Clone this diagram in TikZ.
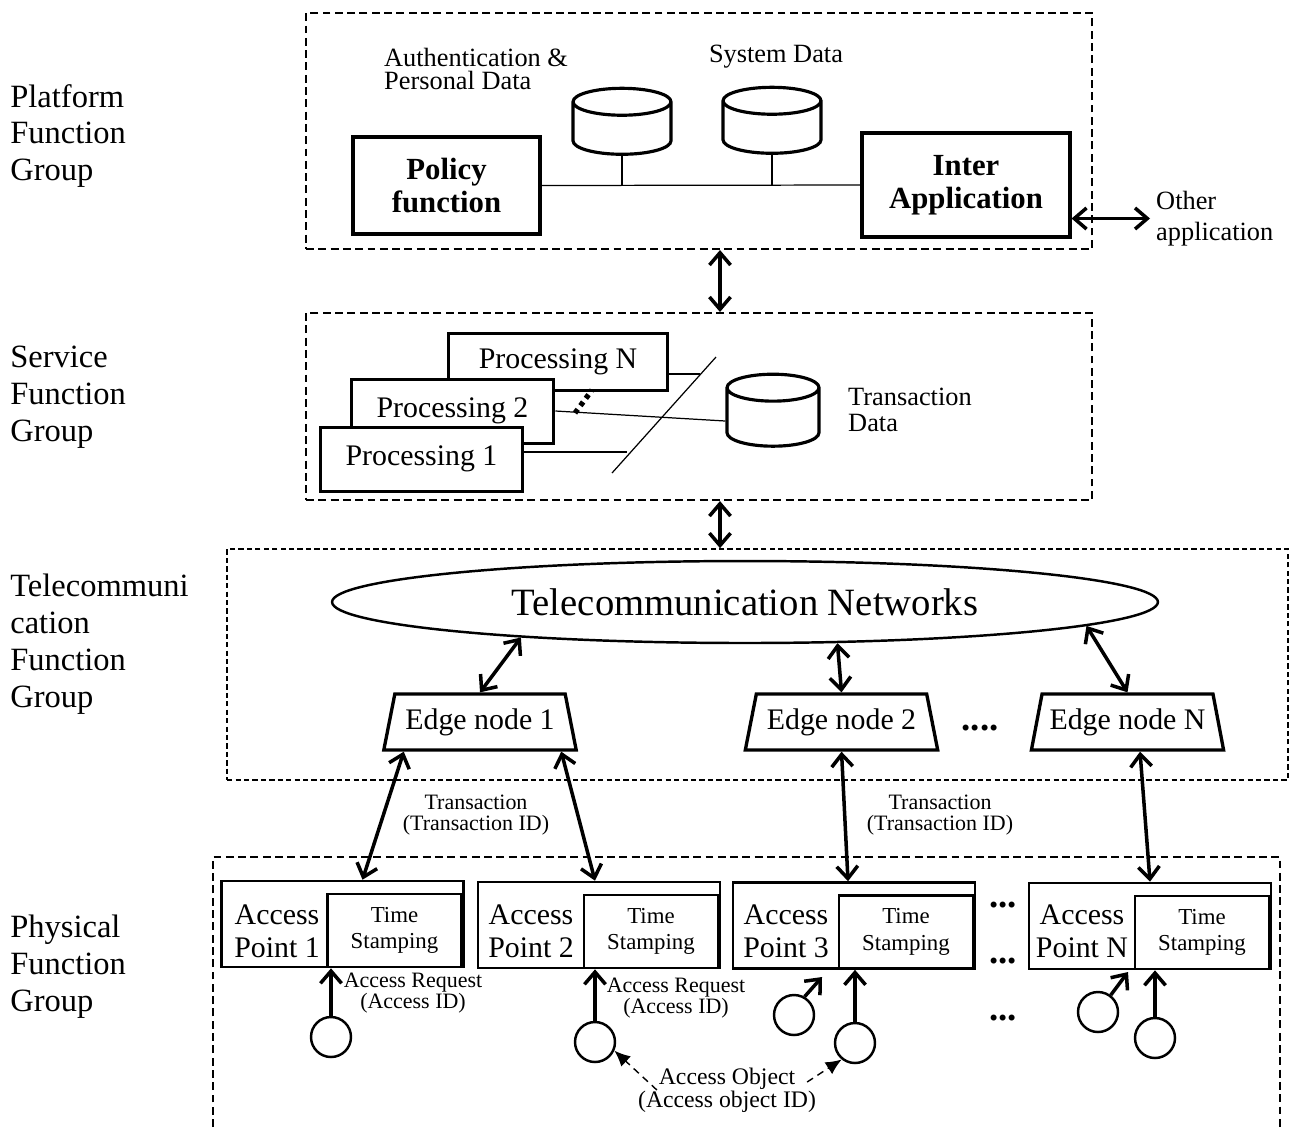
\documentclass[tikz,border=0pt]{standalone}
\usepackage{fontspec}
\setmainfont{Liberation Serif}
\usetikzlibrary{shapes.geometric,arrows.meta}

\begin{document}
\begin{tikzpicture}[x=0.02cm, y=-0.02cm,
    grouplbl/.style={anchor=west, align=left, inner sep=0pt, font=\fontsize{18.5}{21}\selectfont},
    groupbox/.style={draw, line width=1.2pt, dash pattern=on 4.5pt off 2.5pt},
    telebox/.style={draw, line width=1pt, dash pattern=on 3pt off 1.8pt},
    funcbox/.style={draw, line width=1.8pt, align=center, font=\fontsize{17.5}{19}\selectfont\bfseries},
    db/.style={cylinder, shape border rotate=90, draw, line width=1.8pt, aspect=2.3},
    datalbl/.style={font=\fontsize{15}{13.6}\selectfont},
    procbox/.style={draw, fill=white, line width=1.7pt, font=\fontsize{17}{19}\selectfont},
    edgebox/.style={trapezium, trapezium left angle=75, trapezium right angle=75, trapezium stretches=true,
        draw, line width=1.9pt, minimum width=3.85cm, minimum height=1.12cm, font=\fontsize{17}{19}\selectfont},
    apbox/.style={draw, line width=1.5pt, minimum width=4.84cm, minimum height=1.72cm},
    tsbox/.style={draw, line width=1.5pt, minimum width=2.68cm, minimum height=1.46cm, align=center,
        font=\fontsize{13}{15}\selectfont},
    aptext/.style={align=center, font=\fontsize{17}{19}\selectfont},
    smalllbl/.style={align=center, font=\fontsize{12.5}{12}\selectfont},
    obj/.style={circle, draw, line width=1.4pt, minimum size=0.8cm, inner sep=0pt},
    ellip/.style={font=\fontsize{21}{21}\selectfont\bfseries},
    bus/.style={line width=0.7pt},
    dbl/.style={{Straight Barb[length=7pt,width=12pt]}-{Straight Barb[length=7pt,width=12pt]}, line width=2pt},
    arr/.style={-{Straight Barb[length=7pt,width=12pt]}, line width=2pt},
    objarr/.style={-{Latex[length=9pt,width=8pt]}, line width=0.8pt, dash pattern=on 4pt off 3pt}]

    \useasboundingbox (0,0) rectangle (1290,1127);

    % Platform Function Group
    \node[grouplbl] (platlbl) at (10,136) {Platform\\Function\\Group};
    \node[groupbox, minimum width=15.72cm, minimum height=4.72cm] (plat) at (699,131) {};
    \node[funcbox, minimum width=3.74cm, minimum height=1.94cm] (policy) at (446.5,185.5) {Policy\\function};
    \node[funcbox, minimum width=4.16cm, minimum height=2.08cm] (inter) at (966,185) {Inter\\Application};
    \node[db, minimum width=1.96cm, minimum height=1.32cm] (authdb) at (622,132) {};
    \node[db, minimum width=1.96cm, minimum height=1.32cm] (sysdb) at (772,131) {};
    \node[datalbl, anchor=west, align=left] (authlbl) at (378,69) {Authentication \&\\Personal Data};
    \node[datalbl] (syslbl) at (776,57) {System Data};
    \draw[bus] (policy.east) -- (inter.west);
    \draw[bus] (authdb.south) -- (authdb.south |- policy.east);
    \draw[bus] (sysdb.south) -- (sysdb.south |- policy.east);
    \node[anchor=west, align=left, font=\fontsize{15}{17.5}\selectfont] (otherlbl) at (1150,218.5) {Other\\application};
    \draw[dbl] (inter.east |- otherlbl.west) -- (otherlbl.west);

    % Service Function Group
    \node[grouplbl] (servlbl) at (10,397) {Service\\Function\\Group};
    \node[groupbox, minimum width=15.72cm, minimum height=3.74cm] (serv) at (699,406.5) {};
    \node[procbox, minimum width=4.4cm, minimum height=1.14cm] (procN) at (558,361.5) {Processing N};
    \node[procbox, minimum width=4.06cm, minimum height=1.28cm] (proc2) at (452.5,411) {Processing 2};
    \node[procbox, minimum width=4.06cm, minimum height=1.28cm] (proc1) at (421.5,459) {Processing 1};
    \node[db, minimum width=1.84cm, minimum height=1.44cm] (txdb) at (773,421) {};
    \node[datalbl, anchor=west, align=left, font=\fontsize{15}{14.5}\selectfont] (txlbl) at (842,410) {Transaction\\Data};
    \coordinate (cutN) at (700,374);
    \coordinate (cut1) at (627,452);
    \coordinate (slashtop) at (716,357);
    \coordinate (slashbot) at (612,473);
    \draw[bus] (procN.east |- cutN) -- (cutN);
    \draw[bus] (proc2.east) -- (txdb.west);
    \draw[bus] (proc1.east |- cut1) -- (cut1);
    \draw[bus] (slashbot) -- (slashtop);
    \draw[line width=3pt, dash pattern=on 2.6pt off 2.6pt] (575,413) -- (592,390);

    % Telecommunication Function Group
    \node[grouplbl] (telelbl) at (10,644) {Telecommuni\\cation\\Function\\Group};
    \node[telebox, minimum width=21.22cm, minimum height=4.62cm] (tele) at (757.5,664.5) {};
    \node[ellipse, draw, line width=1.4pt, minimum width=16.52cm, minimum height=1.64cm,
        font=\fontsize{22}{26}\selectfont] (net) at (745,602) {Telecommunication Networks};
    \node[edgebox] (edge1) at (480,722) {Edge node 1};
    \node[edgebox] (edge2) at (841.5,722) {Edge node 2};
    \node[edgebox] (edgeN) at (1127.5,722) {Edge node N};
    \node[ellip] (edots) at (980,728) {....};
    \draw[dbl] (net.189) -- (edge1.north);
    \draw[dbl] (net.336) -- (edge2.north);
    \draw[dbl] (net.356) -- (edgeN.north);

    % between the groups
    \coordinate (mid) at (720,0);
    \draw[dbl] (plat.south -| mid) -- (serv.north -| mid);
    \draw[dbl] (serv.south -| mid) -- (tele.north -| mid);

    % Physical Function Group
    \node[grouplbl] (physlbl) at (10,967) {Physical\\Function\\Group};
    \draw[groupbox] (213,1127) |- (1280,857) -- (1280,1127);

    \node[apbox] (ap1) at (342.5,924) {};
    \node[tsbox, anchor=south east] (ts1) at ([xshift=-0.04cm]ap1.south east) {Time\\Stamping};
    \node[aptext] (ap1txt) at (277,931) {Access\\Point 1};
    \node[apbox] (ap2) at (599,925) {};
    \node[tsbox, anchor=south east] (ts2) at ([xshift=-0.04cm]ap2.south east) {Time\\Stamping};
    \node[aptext] (ap2txt) at (531,931) {Access\\Point 2};
    \node[apbox] (ap3) at (854,925.5) {};
    \node[tsbox, anchor=south east] (ts3) at ([xshift=-0.04cm]ap3.south east) {Time\\Stamping};
    \node[aptext] (ap3txt) at (786,931) {Access\\Point 3};
    \node[apbox] (apN) at (1150,926) {};
    \node[tsbox, anchor=south east] (tsN) at ([xshift=-0.04cm]apN.south east) {Time\\Stamping};
    \node[aptext] (apNtxt) at (1082,931) {Access\\Point N};

    \node[ellip] (dotsA) at (1003,905) {...};
    \node[ellip] (dotsB) at (1003,961) {...};
    \node[ellip] (dotsC) at (1003,1018) {...};

    % transactions
    \draw[dbl] ([xshift=0.44cm]edge1.bottom left corner) -- ([xshift=0.4cm]ap1.north);
    \draw[dbl] ([xshift=-0.34cm]edge1.bottom right corner) -- ([xshift=-0.08cm]ap2.north);
    \draw[dbl] (edge2.south) -- ([xshift=-0.12cm]ap3.north);
    \draw[dbl] ([xshift=0.25cm]edgeN.south) -- (apN.north);
    \node[smalllbl] (tx1) at (476,815.5) {Transaction\\(Transaction ID)};
    \node[smalllbl] (tx2) at (940,815.5) {Transaction\\(Transaction ID)};

    % access objects
    \node[obj] (c1) at (331,1037) {};
    \node[obj] (c2) at (595,1042) {};
    \node[obj] (c3a) at (794,1015) {};
    \node[obj] (c3b) at (855,1043) {};
    \node[obj] (cNa) at (1098,1012) {};
    \node[obj] (cNb) at (1155,1038) {};
    \coordinate (req3) at (822,977);
    \coordinate (reqN) at (1128,972);
    \draw[arr] (c1.north) -- (c1.north |- ts1.south);
    \draw[arr] (c2.north) -- (c2.north |- ts2.south);
    \draw[arr] (c3b.north) -- (c3b.north |- ts3.south);
    \draw[arr] (cNb.north) -- (cNb.north |- tsN.south);
    \draw[arr] (c3a.60) -- (req3);
    \draw[arr] (cNa.53) -- (reqN);
    \node[smalllbl] (arq1) at (413,993) {Access Request\\(Access ID)};
    \node[smalllbl] (arq2) at (676,998.5) {Access Request\\(Access ID)};

    \node[smalllbl, font=\fontsize{13.5}{13}\selectfont] (aobj) at (727,1090) {Access Object\\(Access object ID)};
    \draw[objarr] ([xshift=0.5cm]aobj.west) -- (c2.-24);
    \draw[objarr] ([xshift=-0.3cm,yshift=0.16cm]aobj.east) -- (c3b.231);
\end{tikzpicture}
\end{document}
